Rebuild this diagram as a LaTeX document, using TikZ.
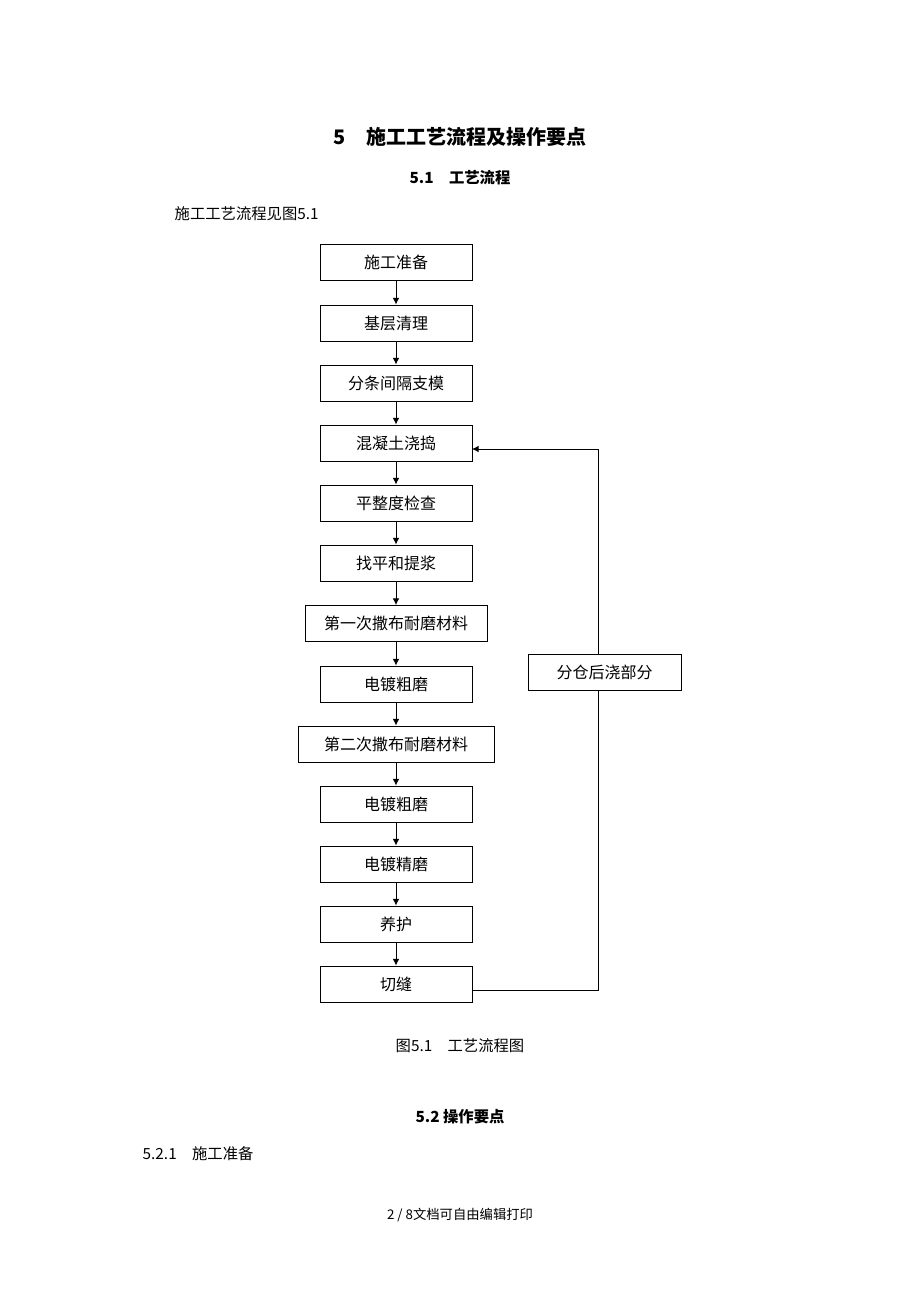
\documentclass[tikz,border=0pt]{standalone}
\usepackage{fontspec}
\setmainfont{Noto Sans CJK SC}
\newfontfamily\cjkb{Noto Sans CJK SC Bold}
\usetikzlibrary{arrows.meta}
\begin{document}
\begin{tikzpicture}[x=0.75pt,y=-0.75pt,
  box/.style={draw,line width=0.7pt,minimum height=27pt,inner sep=0pt,font=\fontsize{12}{12}\selectfont},
  arr/.style={-{Latex[length=5pt,width=5pt]},line width=0.7pt}]
\useasboundingbox[fill=white] (0,0) rectangle (920,1302);
\node[font=\bfseries\fontsize{15}{15}\selectfont] (t1) at (460,137) {5\quad 施工工艺流程及操作要点};
\node[font=\bfseries\fontsize{11.5}{12}\selectfont] (t2) at (460,178) {5.1\quad 工艺流程};
\node[anchor=west,font=\fontsize{11.5}{12}\selectfont] (t3) at (170,214) {施工工艺流程见图5.1};
\foreach \n/\y/\w/\t in {a/262.5/152/施工准备, b/323/152/基层清理, c/383/152/分条间隔支模, d/443/152/混凝土浇捣, e/503/152/平整度检查, f/563/152/找平和提浆, g/623.5/182/第一次撒布耐磨材料, h/684/152/电镀粗磨, i/744/196/第二次撒布耐磨材料, j/804/152/电镀粗磨, k/864/152/电镀精磨, l/924/152/养护, m/984/152/切缝}
  \node[box,minimum width=\w*0.75pt] (\n) at (396,\y) {\t};
\node[box,minimum width=114.75pt] (s) at (604.5,672.5) {分仓后浇部分};
\foreach \p/\q in {a/b,b/c,c/d,d/e,e/f,f/g,g/h,h/i,i/j,j/k,k/l,l/m}
  \draw[arr] (\p) -- (\q);
\coordinate (c1) at (598,990);
\coordinate (c2) at (598,449);
\coordinate (c3) at (472,449);
\draw[line width=0.7pt] (472,990) -- (c1) -- (s.south -| c1);
\draw[arr] (s.north -| c2) -- (c2) -- (c3);
\node[font=\fontsize{11.5}{12}\selectfont] (cap) at (460,1046) {图5.1\quad 工艺流程图};
\node[font=\bfseries\fontsize{11.5}{12}\selectfont] (t4) at (460,1117) {5.2 操作要点};
\node[anchor=west,font=\fontsize{11.5}{12}\selectfont] (t5) at (138,1154) {5.2.1\quad 施工准备};
\node[font=\fontsize{10}{10}\selectfont] (ft) at (460,1215) {2 / 8文档可自由编辑打印};
\end{tikzpicture}
\end{document}
